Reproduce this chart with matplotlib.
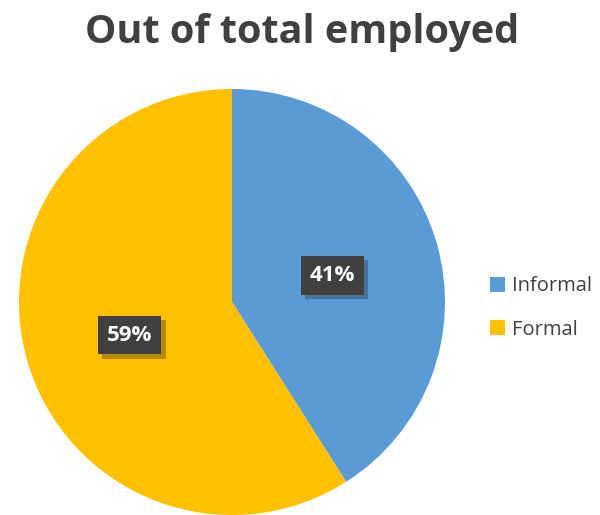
import matplotlib.pyplot as plt
import matplotlib.patheffects as pe

labels = ["Informal", "Formal"]
shares = [41, 59]
colors = ["#5B9BD5", "#FFC000"]

plt.rcParams["font.family"] = ["Open Sans", "DejaVu Sans"]

fig = plt.figure(figsize=(6, 5.15), dpi=100)
fig.patch.set_facecolor("white")

# pie axes: centre (232, 302) px, radius 213 px
ax = fig.add_axes([19 / 600, 0 / 515, 426 / 600, 426 / 515])
wedges, _ = ax.pie(shares, colors=colors, startangle=90, counterclock=False,
                   radius=1.0, wedgeprops=dict(linewidth=0))
ax.set_xlim(-1, 1)
ax.set_ylim(-1, 1)
ax.set_aspect("equal")

label_pos = [(0.47, 0.125), (-0.48, -0.155)]
for (x, y), v in zip(label_pos, shares):
    ax.text(x, y, f"{v}%", ha="center", va="center", fontsize=16,
            fontweight="bold", color="white",
            bbox=dict(boxstyle="square,pad=0.4", fc="#404040", ec="none",
                      path_effects=[pe.withSimplePatchShadow(offset=(3, -3), alpha=0.3)]))

fig.text(302 / 600, 1 - 33 / 515, "Out of total employed", ha="center", va="center",
         fontsize=28.5, fontweight="bold", color="#404040")

leg = fig.legend(wedges, labels, loc="center left", bbox_to_anchor=(472 / 600, 1 - 308 / 515),
                 frameon=False, fontsize=14.5, handlelength=0.75, handleheight=0.75,
                 handletextpad=0.35, labelspacing=1.15, labelcolor="#404040")

fig.savefig("out.png", dpi=100)
